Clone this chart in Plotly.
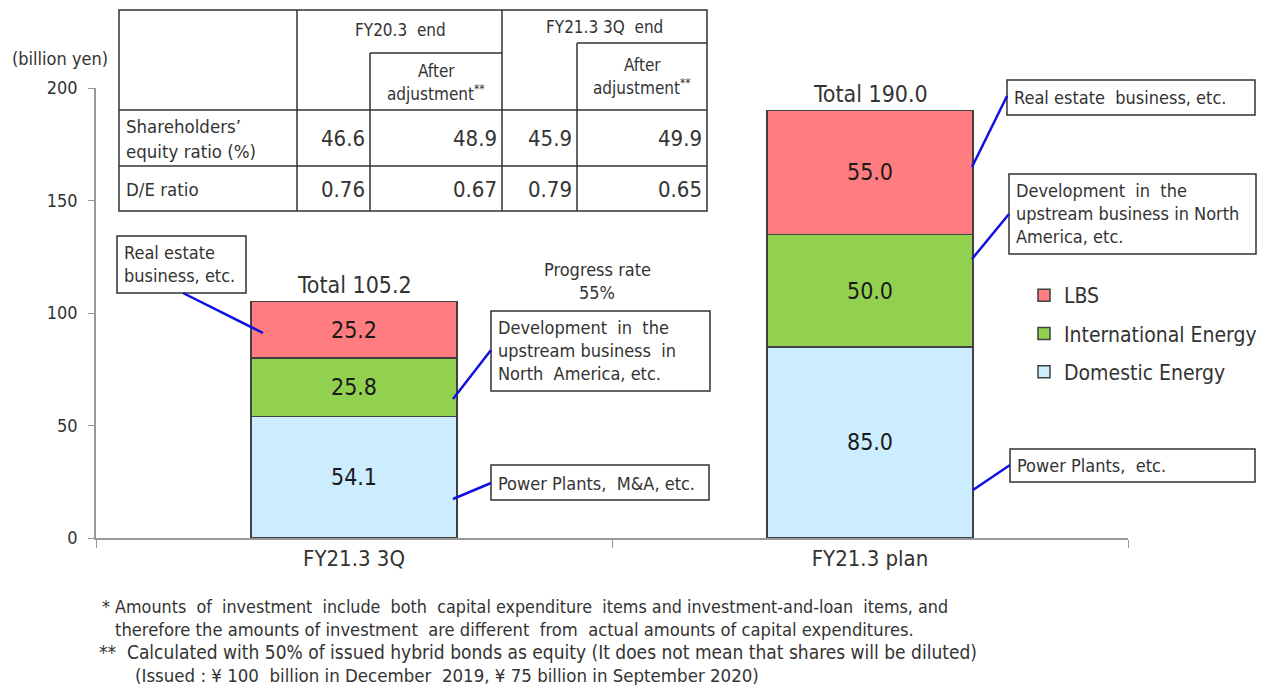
import plotly.graph_objects as go

# ---------------- data ----------------
categories = ["FY21.3 3Q", "FY21.3 plan"]
series_names = ["Domestic Energy", "International Energy", "LBS"]
domestic_energy = [54.1, 85.0]
international_energy = [25.8, 50.0]
lbs = [25.2, 55.0]
totals = [105.2, 190.0]
progress_rate = "55%"
y_tick_values = [0, 50, 100, 150, 200]

table_col_headers = ["FY20.3  end", "FY21.3 3Q  end"]
table_sub_header = ["After", "adjustment<sup>**</sup>"]
table_row_labels = [["Shareholders’", "equity ratio (%)"], ["D/E ratio"]]
equity_ratio = ["46.6", "48.9", "45.9", "49.9"]
de_ratio = ["0.76", "0.67", "0.79", "0.65"]

callouts_3q = [["Real estate", "business, etc."],
               ["Development  in  the", "upstream business  in", "North  America, etc."],
               ["Power Plants,  M&A, etc."]]
callouts_plan = [["Real estate  business, etc."],
                 ["Development  in  the", "upstream business in North", "America, etc."],
                 ["Power Plants,  etc."]]
footnotes = [
    "* Amounts  of  investment  include  both  capital expenditure  items and investment-and-loan  items, and",
    "therefore the amounts of investment  are different  from  actual amounts of capital expenditures.",
    "**  Calculated with 50% of issued hybrid bonds as equity (It does not mean that shares will be diluted)",
    "(Issued : ¥ 100  billion in December  2019, ¥ 75 billion in September 2020)",
]

# ---------------- style / layout ----------------
W, H = 1272, 685
L, R, T, B = 96, 1128, 88, 538
FONT = "DejaVu Sans Condensed, DejaVu Sans, sans-serif"
colors = ["#CCECFF", "#92D050", "#FF7C80"]
ranks = [3, 2, 1]
TXT = "#333333"


def px(x):
    return (x - L) / (R - L)


def py(y):
    return (B - y) / (B - T)


fig = go.Figure()
for name, vals, col, rk in zip(series_names, [domestic_energy, international_energy, lbs], colors, ranks):
    fig.add_trace(go.Bar(
        x=categories, y=vals, name=name, legendgroup=name, legendrank=rk,
        marker=dict(color=col, line=dict(color="#404040", width=1.5)),
        width=0.4, texttemplate="%{y:.1f}",
        textposition="inside", insidetextanchor="middle",
        textfont=dict(family=FONT, size=23, color="#1a1a1a"),
        constraintext="none", hoverinfo="name+y",
    ))

shapes = []
annotations = []


def line(x0, y0, x1, y1, color="#333333", width=1.5):
    shapes.append(dict(type="line", xref="paper", yref="paper",
                       x0=px(x0), y0=py(y0), x1=px(x1), y1=py(y1),
                       line=dict(color=color, width=width)))


def text(x, y, s, size=15, anchor="center", font=FONT, color=TXT):
    annotations.append(dict(xref="paper", yref="paper", x=px(x), y=py(y), text=s,
                            showarrow=False, xanchor=anchor, yanchor="middle",
                            font=dict(family=font, size=size, color=color)))


# totals above bars
stack_tops = [d + i + l for d, i, l in zip(domestic_energy, international_energy, lbs)]
for cat, tot, top in zip(categories, totals, stack_tops):
    annotations.append(dict(x=cat, y=top, xref="x", yref="y", text=f"Total {tot:.1f}", showarrow=False,
                            yanchor="bottom", yshift=2,
                            font=dict(family=FONT, size=23, color=TXT)))

# axis title
text(60, 58, "(billion yen)", size=18)

# progress rate
text(597, 269, "Progress rate", size=18)
text(597, 292, progress_rate, size=18)

# ---- table ----
shapes.append(dict(type="rect", xref="paper", yref="paper", x0=px(119), y0=py(10), x1=px(707), y1=py(211),
                   line=dict(color="#333333", width=1.5), fillcolor="rgba(0,0,0,0)"))
line(297, 10, 297, 211)
line(502, 10, 502, 211)
line(370, 53, 370, 211)
line(577, 43, 577, 211)
line(370, 53, 502, 53)
line(577, 43, 707, 43)
line(119, 110, 707, 110)
line(119, 166, 707, 166)

text(400, 30, table_col_headers[0], size=17)
text(604, 27, table_col_headers[1], size=17)
text(436, 71, table_sub_header[0], size=17)
text(436, 93, table_sub_header[1], size=17)
text(642, 65, table_sub_header[0], size=17)
text(642, 87, table_sub_header[1], size=17)
text(124, 126, table_row_labels[0][0], size=18.5, anchor="left")
text(124, 151, table_row_labels[0][1], size=18.5, anchor="left")
text(124, 189, table_row_labels[1][0], size=18.5, anchor="left")
col_right = [367, 499, 574, 704]
for xr, v in zip(col_right, equity_ratio):
    text(xr, 138, v, size=22, anchor="right")
for xr, v in zip(col_right, de_ratio):
    text(xr, 189, v, size=22, anchor="right")


# ---- callouts ----
def callout(box, lines_, first_y, conn, size=18):
    x0, y0, x1, y1 = box
    shapes.append(dict(type="rect", xref="paper", yref="paper", x0=px(x0), y0=py(y0), x1=px(x1), y1=py(y1),
                       line=dict(color="#333333", width=1.5), fillcolor="white"))
    for i, s in enumerate(lines_):
        text(x0 + 5, first_y + 23 * i, s, size=size, anchor="left")
    line(*conn, color="#1010E0", width=2.5)


callout((117, 236, 246, 293), callouts_3q[0], 252, (183, 293, 263, 333))
callout((491, 311, 710, 391), callouts_3q[1], 327, (491, 350, 453, 399))
callout((491, 465, 709, 500), callouts_3q[2], 483, (491, 483, 453, 499))
callout((1007, 80, 1255, 115), callouts_plan[0], 97, (1007, 96, 972, 167))
callout((1009, 174, 1256, 254), callouts_plan[1], 190, (1009, 214, 972, 259))
callout((1010, 449, 1255, 482), callouts_plan[2], 465, (1010, 465, 973, 490))

# ---- footnotes ----
text(100, 606, footnotes[0], size=17.8, anchor="left")
text(113, 629, footnotes[1], size=18.2, anchor="left")
text(97, 652, footnotes[2], size=19, anchor="left")
text(133, 675, footnotes[3], size=18.5, anchor="left")

fig.update_layout(
    width=W, height=H, autosize=False,
    margin=dict(l=L, r=W - R, t=T, b=H - B, pad=0, autoexpand=False),
    paper_bgcolor="white", plot_bgcolor="white",
    barmode="stack", bargap=0.6,
    showlegend=True,
    legend=dict(x=px(1024), y=py(275), xanchor="left", yanchor="top",
                traceorder="grouped", tracegroupgap=8,
                font=dict(family=FONT, size=21, color=TXT), bgcolor="rgba(0,0,0,0)"),
    xaxis=dict(type="category", range=[-0.5, 1.5], showline=True, linecolor="#999999", linewidth=1.5,
               ticks="outside", tickson="boundaries", ticklen=8, tickcolor="#999999",
               tickfont=dict(family=FONT, size=22, color=TXT), showgrid=False, fixedrange=True,
               automargin=False),
    yaxis=dict(range=[0, 200], tickvals=y_tick_values, showline=True, linecolor="#999999", linewidth=1.5,
               ticks="outside", ticklen=6, tickcolor="#999999", showgrid=False, zeroline=False,
               ticklabelstandoff=7, automargin=False,
               tickfont=dict(family=FONT, size=18, color=TXT), fixedrange=True),
    shapes=shapes, annotations=annotations,
)

fig.write_html("out.html")
